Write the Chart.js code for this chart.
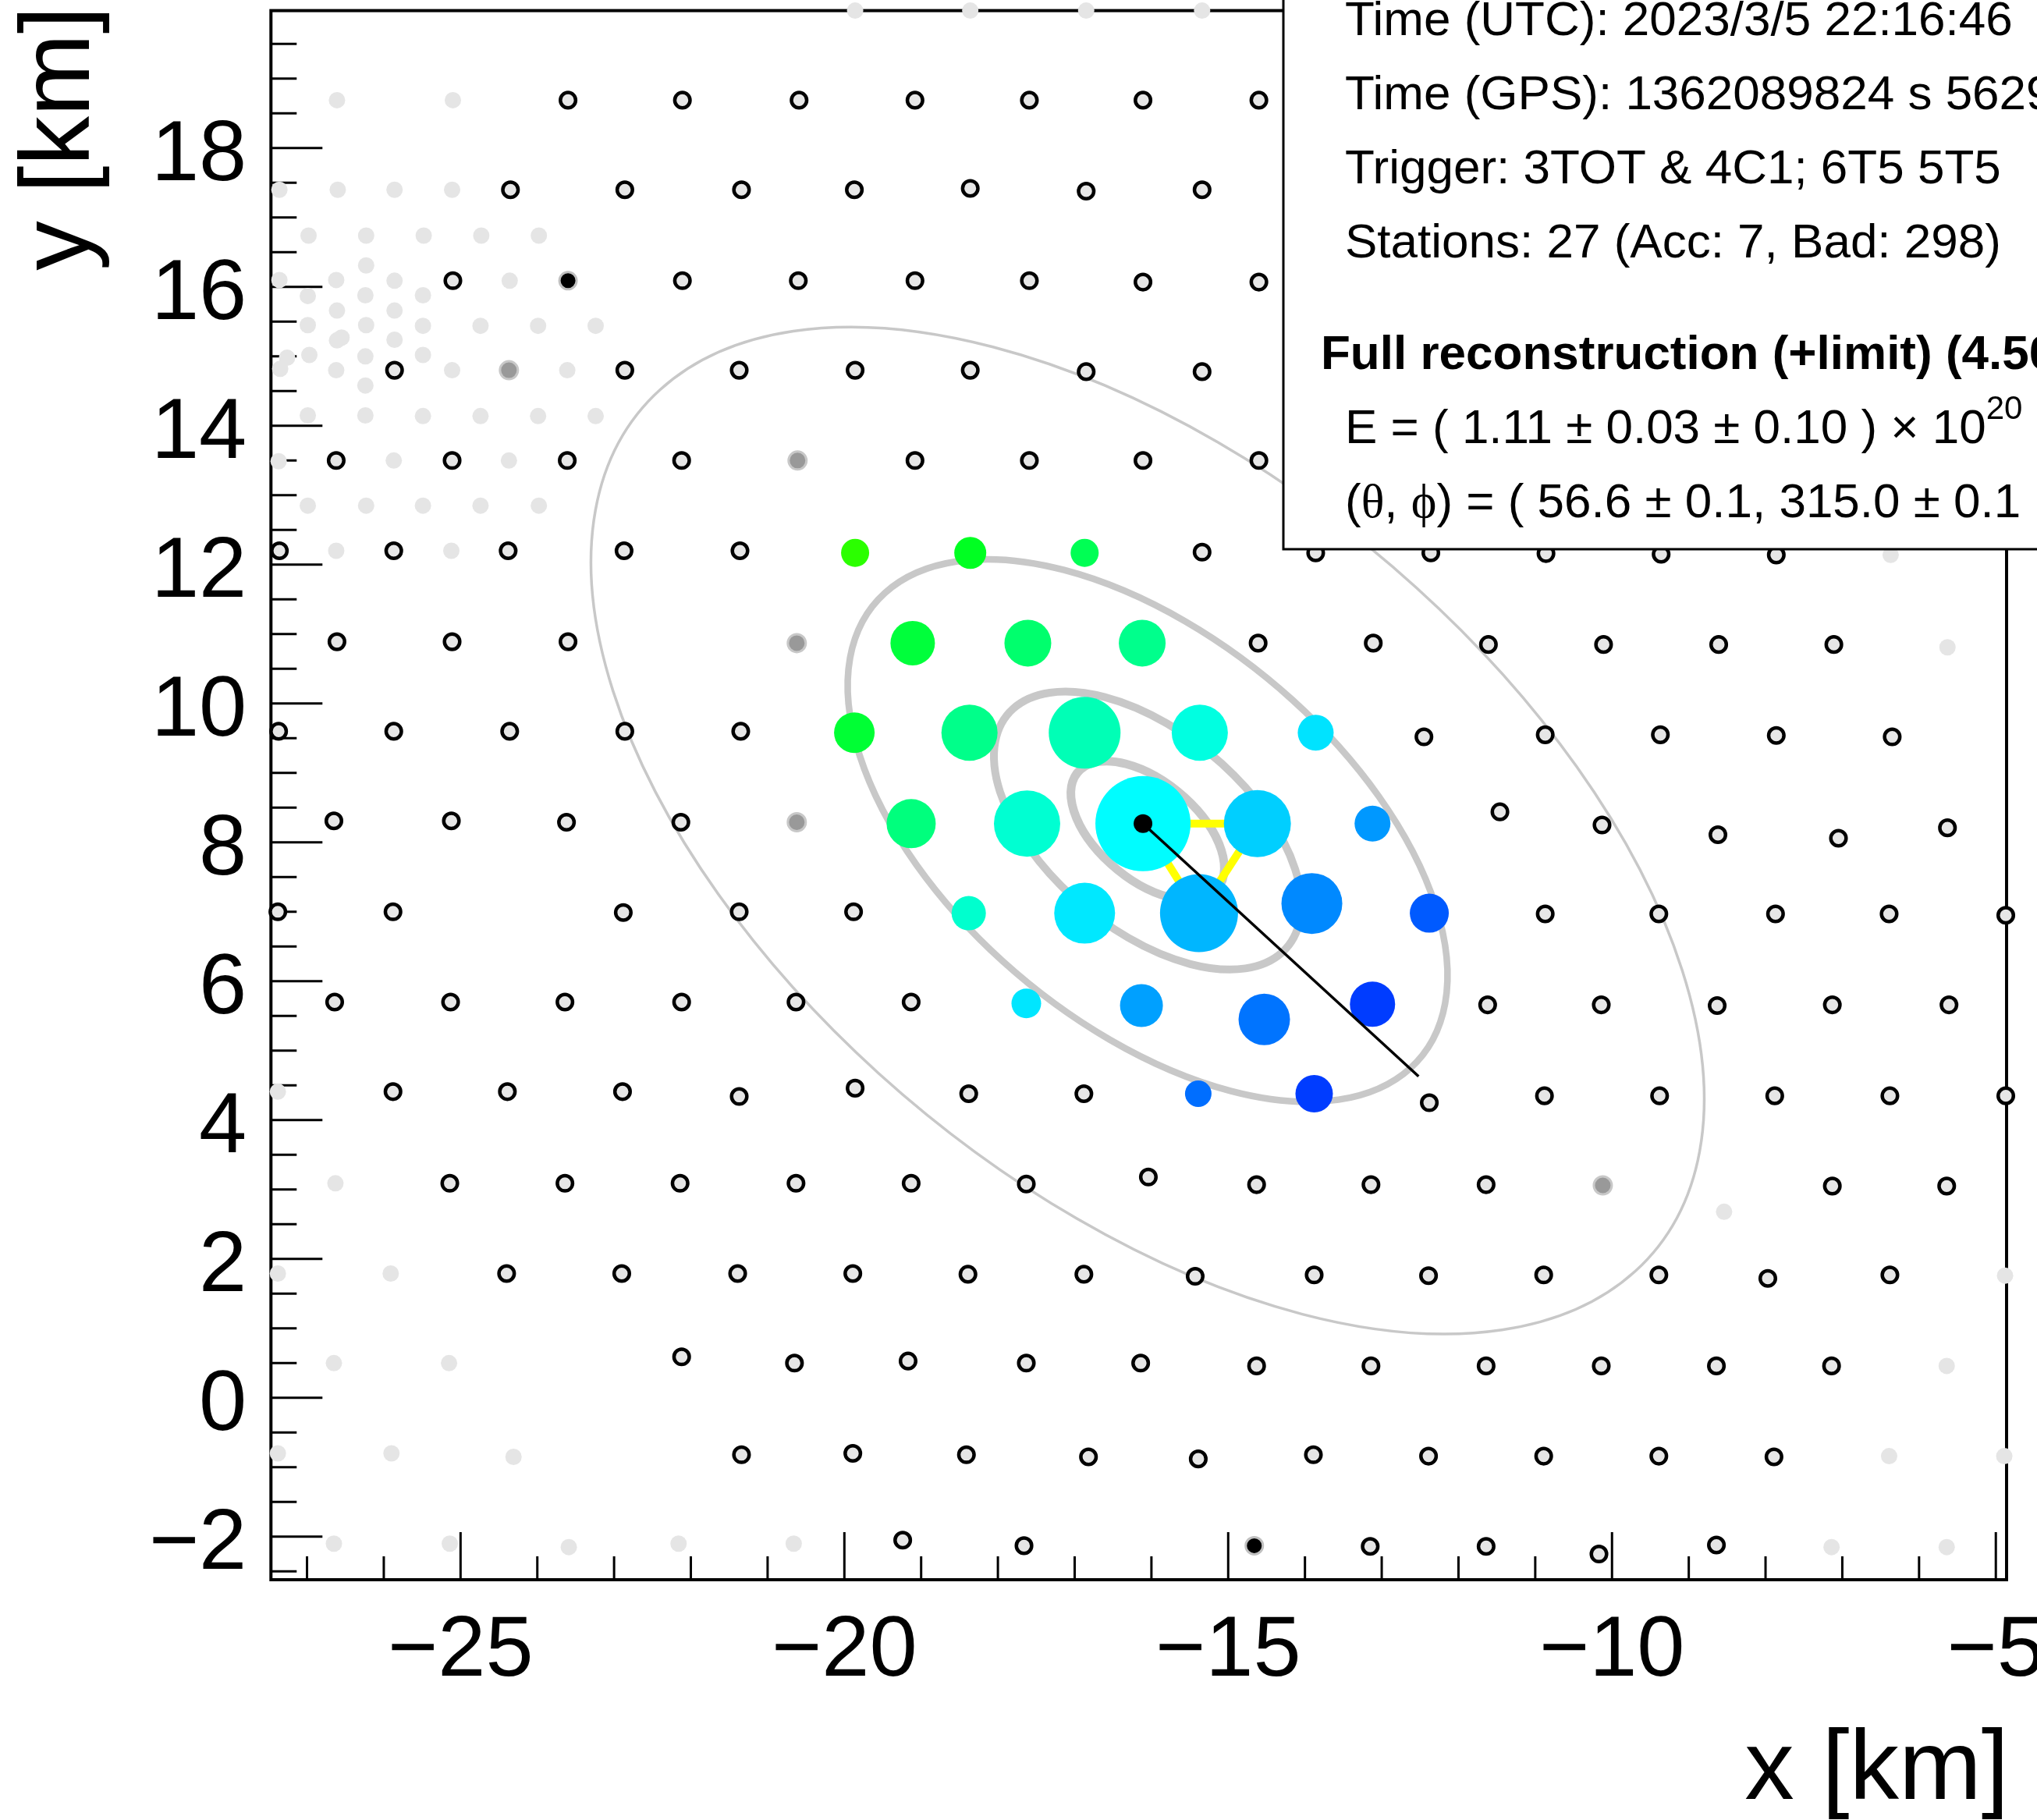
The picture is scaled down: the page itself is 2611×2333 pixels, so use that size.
<!DOCTYPE html>
<html>
<head>
<meta charset="utf-8">
<title>SD event display</title>
<script src="https://cdn.jsdelivr.net/npm/chart.js@4.4.1/dist/chart.umd.min.js"></script>
<style>
  html, body { margin: 0; padding: 0; background: #fff; overflow: hidden; }
  canvas { display: block; }
</style>
</head>
<body>
<canvas id="arrayChart" width="2611" height="2333"></canvas>
<script>
// axis ranges and ticks (km)
const xRange = [-27.47, -4.86];
const yRange = [-2.62, 19.98];
const xMajorTicks = [-25, -20, -15, -10, -5];
const xMinorTicks = [-27, -26, -24, -23, -22, -21, -19, -18, -17, -16, -14, -13, -12, -11, -9, -8, -7, -6];
const yMajorTicks = [-2, 0, 2, 4, 6, 8, 10, 12, 14, 16, 18];
const yMinorTicks = [-2.5, -1.5, -1, -0.5, 0.5, 1, 1.5, 2.5, 3, 3.5, 4.5, 5, 5.5, 6.5, 7, 7.5, 8.5, 9, 9.5,
  10.5, 11, 11.5, 12.5, 13, 13.5, 14.5, 15, 15.5, 16.5, 17, 17.5, 18.5, 19, 19.5];

// working stations without signal
const openStations = [
  [-23.60, 18.69], [-22.11, 18.69], [-20.59, 18.69], [-19.08, 18.69], [-17.59, 18.69], [-16.11, 18.69], [-14.60, 18.69],
  [-24.35, 17.40], [-22.86, 17.40], [-21.34, 17.40], [-19.87, 17.40], [-18.36, 17.42], [-16.85, 17.38], [-15.34, 17.40],
  [-25.10, 16.09], [-22.11, 16.09], [-20.60, 16.09], [-19.08, 16.09], [-17.59, 16.09], [-16.11, 16.07], [-14.60, 16.07],
  [-25.86, 14.80], [-22.86, 14.80], [-21.37, 14.80], [-19.86, 14.80], [-18.36, 14.80], [-16.85, 14.78], [-15.34, 14.78],
  [-26.62, 13.50], [-25.11, 13.50], [-23.61, 13.50], [-22.12, 13.50], [-19.08, 13.50], [-17.59, 13.50], [-16.11, 13.50], [-14.60, 13.50],
  [-27.36, 12.20], [-25.87, 12.20], [-24.38, 12.20], [-22.87, 12.20], [-21.36, 12.20], [-15.34, 12.18], [-13.86, 12.17],
  [-12.36, 12.17], [-10.86, 12.16], [-9.36, 12.15], [-7.86, 12.14],
  [-26.61, 10.89], [-25.11, 10.89], [-23.60, 10.89], [-14.61, 10.87], [-13.11, 10.87], [-11.61, 10.85], [-10.11, 10.85],
  [-8.61, 10.85], [-7.11, 10.85],
  [-27.37, 9.60], [-25.87, 9.60], [-24.36, 9.60], [-22.86, 9.60], [-21.35, 9.60], [-12.45, 9.52], [-10.87, 9.55],
  [-9.37, 9.55], [-7.86, 9.54], [-6.35, 9.52],
  [-26.65, 8.31], [-25.12, 8.31], [-23.62, 8.29], [-22.13, 8.29], [-11.46, 8.44], [-10.13, 8.25], [-8.62, 8.11],
  [-7.05, 8.06], [-5.63, 8.21],
  [-27.38, 7.00], [-25.88, 7.00], [-22.88, 6.99], [-21.37, 7.00], [-19.88, 7.00], [-10.87, 6.97], [-9.39, 6.97],
  [-7.87, 6.97], [-6.39, 6.97], [-4.87, 6.95],
  [-26.64, 5.70], [-25.13, 5.70], [-23.64, 5.70], [-22.12, 5.70], [-20.63, 5.70], [-19.13, 5.70], [-11.62, 5.66],
  [-10.14, 5.66], [-8.63, 5.65], [-7.13, 5.66], [-5.61, 5.66],
  [-25.88, 4.41], [-24.39, 4.41], [-22.89, 4.41], [-21.37, 4.34], [-19.86, 4.46], [-18.38, 4.38], [-16.88, 4.38],
  [-12.38, 4.25], [-10.88, 4.35], [-9.38, 4.35], [-7.88, 4.35], [-6.38, 4.35], [-4.87, 4.35],
  [-25.14, 3.09], [-23.64, 3.09], [-22.14, 3.09], [-20.63, 3.09], [-19.13, 3.09], [-17.63, 3.08], [-16.04, 3.18],
  [-14.63, 3.07], [-13.14, 3.07], [-11.64, 3.07], [-7.13, 3.05], [-5.64, 3.05],
  [-24.40, 1.79], [-22.90, 1.79], [-21.39, 1.79], [-19.89, 1.79], [-18.39, 1.78], [-16.88, 1.78], [-15.43, 1.75],
  [-13.88, 1.77], [-12.39, 1.76], [-10.89, 1.77], [-9.39, 1.77], [-7.97, 1.72], [-6.38, 1.77],
  [-22.12, 0.59], [-20.65, 0.50], [-19.17, 0.53], [-17.63, 0.50], [-16.14, 0.50], [-14.63, 0.46], [-13.14, 0.46],
  [-11.64, 0.46], [-10.14, 0.46], [-8.64, 0.46], [-7.14, 0.46],
  [-21.34, -0.82], [-19.89, -0.80], [-18.41, -0.82], [-16.82, -0.85], [-15.39, -0.88], [-13.89, -0.82], [-12.39, -0.84],
  [-10.89, -0.84], [-9.39, -0.84], [-7.89, -0.85],
  [-19.24, -2.05], [-17.66, -2.13], [-13.15, -2.14], [-11.64, -2.14], [-10.17, -2.25], [-8.64, -2.12]
];

// bad / not running stations
const badStations = [
  [-19.86, 19.98], [-18.36, 19.98], [-16.85, 19.98], [-15.34, 19.98],
  [-26.61, 18.69], [-25.10, 18.69],
  [-27.36, 17.40], [-26.60, 17.40], [-25.86, 17.40], [-25.11, 17.40],
  [-26.98, 16.74], [-26.23, 16.74], [-25.48, 16.74], [-24.73, 16.74], [-23.98, 16.74],
  [-26.23, 16.31],
  [-27.36, 16.10], [-26.62, 16.10], [-25.86, 16.09], [-24.36, 16.09],
  [-26.99, 15.87], [-26.24, 15.88], [-25.49, 15.88],
  [-26.61, 15.66], [-25.86, 15.66],
  [-26.99, 15.45], [-26.23, 15.45], [-25.49, 15.44], [-24.74, 15.44], [-23.99, 15.44], [-23.24, 15.44],
  [-26.61, 15.23], [-26.55, 15.27], [-25.86, 15.24],
  [-27.26, 14.98], [-26.97, 15.02], [-26.24, 15.00], [-25.49, 15.02],
  [-27.35, 14.82], [-26.62, 14.80], [-25.11, 14.80], [-23.61, 14.80],
  [-26.24, 14.58],
  [-26.99, 14.15], [-26.24, 14.15], [-25.49, 14.14], [-24.74, 14.14], [-23.99, 14.14], [-23.24, 14.14],
  [-27.37, 13.49], [-25.87, 13.50], [-24.37, 13.50],
  [-26.99, 12.85], [-26.23, 12.85], [-25.49, 12.85], [-24.74, 12.85], [-23.98, 12.85],
  [-26.62, 12.20], [-25.12, 12.20], [-6.37, 12.14],
  [-5.63, 10.81],
  [-27.38, 4.41],
  [-26.63, 3.09], [-8.54, 2.68],
  [-27.38, 1.79], [-25.91, 1.79], [-4.88, 1.76],
  [-26.65, 0.50], [-25.15, 0.50], [-5.64, 0.46],
  [-27.38, -0.80], [-25.90, -0.80], [-24.31, -0.85], [-6.39, -0.84], [-4.89, -0.84],
  [-26.65, -2.10], [-25.14, -2.10], [-23.59, -2.15], [-22.16, -2.10], [-20.66, -2.10], [-7.14, -2.15], [-5.64, -2.15]
];

const darkStations = [[-24.37, 14.80], [-20.61, 13.50], [-20.62, 10.87], [-20.62, 8.29], [-10.12, 3.06]];
const blackStations = [[-23.60, 16.09], [-14.66, -2.13]];

// the 27 stations with signal
const trigX = [-19.86, -18.36, -16.87, -19.11, -17.61, -16.12, -19.87, -18.37, -16.87, -15.37, -13.86,
  -19.13, -17.62, -16.11, -14.62, -13.12, -18.38, -16.87, -15.38, -13.91, -12.38, -17.63, -16.13, -14.53, -13.12,
  -15.39, -13.88];
const trigY = [12.17, 12.17, 12.17, 10.87, 10.87, 10.87, 9.58, 9.58, 9.58, 9.58, 9.58,
  8.27, 8.27, 8.27, 8.27, 8.27, 6.98, 6.98, 6.98, 7.12, 6.98, 5.68, 5.65, 5.45, 5.67,
  4.38, 4.38];
// relative (log) signal, sets marker size
const trigSignal = [1.8, 2.05, 1.8, 2.85, 3.0, 3.0, 2.6, 3.6, 4.6, 3.6, 2.3,
  3.15, 4.25, 6.1, 4.3, 2.3, 2.2, 3.9, 5.0, 3.9, 2.5, 1.9, 2.75, 3.3, 2.9,
  1.7, 2.4];
// relative start time, 0 = first, 1 = last
const trigTime = [0.015, 0.17, 0.27, 0.22, 0.32, 0.38, 0.205, 0.376, 0.465, 0.55, 0.666,
  0.35, 0.52, 0.615, 0.706, 0.815, 0.513, 0.657, 0.756, 0.846, 0.94, 0.66, 0.80, 0.887, 0.999,
  0.90, 1.0];
const t3Triangle = [13, 14, 18];

// reconstruction
const core = [-16.11, 8.27];
const axisEnd = [-12.52, 4.63];
const ringCenter = [-16.05, 8.17];
const ringAngle = -45;
const ringSemiMajor = [1.24, 2.48, 4.84, 8.98];
const ringSemiMinor = [0.68, 1.365, 2.665, 4.95];

const infoLines = [
  'Time (UTC): 2023/3/5 22:16:46',
  'Time (GPS): 1362089824 s 562954 ns',
  'Trigger: 3TOT & 4C1; 6T5 5T5',
  'Stations: 27 (Acc: 7, Bad: 298)'
];
const recoTitle = 'Full reconstruction (+limit) (4.50 EeV)';
const energyText = ['E = ( 1.11 \u00b1 0.03 \u00b1 0.10 ) \u00d7 10', '20', '     eV'];
const angleText = ['(', '\u03b8', ', ', '\u03d5', ') = ( 56.6 \u00b1 0.1, 315.0 \u00b1 0.1'];

const SANS = '"Liberation Sans", Arial, Helvetica, sans-serif';
const SERIF = '"Liberation Serif", "DejaVu Serif", serif';

function pts(list) {
  return list.map(p => ({ x: p[0], y: p[1] }));
}

function timeColor(t) {
  return `hsl(${108 + 118 * t}, 100%, 50%)`;
}

function minus(v) {
  return v < 0 ? '\u2212' + Math.abs(v) : String(v);
}

const frameAxes = {
  id: 'frameAxes',
  beforeDatasetsDraw(chart) {
    const { ctx, chartArea: a, scales: { x, y } } = chart;
    ctx.save();
    ctx.strokeStyle = '#000';
    ctx.lineWidth = 4;
    ctx.strokeRect(a.left, a.top, a.right - a.left, a.bottom - a.top);
    ctx.lineWidth = 3;
    ctx.beginPath();
    xMajorTicks.forEach(v => { const p = x.getPixelForValue(v); ctx.moveTo(p, a.bottom); ctx.lineTo(p, a.bottom - 61); });
    xMinorTicks.forEach(v => { const p = x.getPixelForValue(v); ctx.moveTo(p, a.bottom); ctx.lineTo(p, a.bottom - 30); });
    yMajorTicks.forEach(v => { const p = y.getPixelForValue(v); ctx.moveTo(a.left, p); ctx.lineTo(a.left + 66, p); });
    yMinorTicks.forEach(v => { const p = y.getPixelForValue(v); ctx.moveTo(a.left, p); ctx.lineTo(a.left + 33, p); });
    ctx.stroke();
    ctx.restore();
  },
  afterDraw(chart) {
    const { ctx, chartArea: a, scales: { x, y } } = chart;
    ctx.save();
    ctx.fillStyle = '#000';
    ctx.font = `110px ${SANS}`;
    ctx.textBaseline = 'alphabetic';
    ctx.textAlign = 'center';
    xMajorTicks.forEach(v => ctx.fillText(minus(v), x.getPixelForValue(v), a.bottom + 123));
    ctx.textAlign = 'right';
    yMajorTicks.forEach(v => ctx.fillText(minus(v), a.left - 31, y.getPixelForValue(v) + 41));
    ctx.font = `127px ${SANS}`;
    ctx.fillText('x [km]', a.right + 3, 2306);
    ctx.translate(114, 8);
    ctx.rotate(-Math.PI / 2);
    ctx.fillText('y [km]', 0, 0);
    ctx.restore();
  }
};

const showerRings = {
  id: 'showerRings',
  beforeDatasetsDraw(chart) {
    const { ctx, scales: { x, y } } = chart;
    const sx = x.getPixelForValue(1) - x.getPixelForValue(0);
    const sy = y.getPixelForValue(0) - y.getPixelForValue(1);
    const widths = [11, 10, 8.5, 3.5];
    ringSemiMajor.forEach((am, i) => {
      ctx.save();
      ctx.beginPath();
      ctx.translate(x.getPixelForValue(ringCenter[0]), y.getPixelForValue(ringCenter[1]));
      ctx.scale(sx, -sy);
      ctx.rotate(ringAngle * Math.PI / 180);
      ctx.ellipse(0, 0, am, ringSemiMinor[i], 0, 0, 2 * Math.PI);
      ctx.restore();
      ctx.save();
      ctx.strokeStyle = '#c8c8c8';
      ctx.lineWidth = widths[i];
      ctx.stroke();
      ctx.restore();
    });
  }
};

function drawRuns(ctx, runs, x, y) {
  runs.forEach(r => {
    ctx.font = r.font;
    ctx.fillText(r.text, x, y + (r.dy || 0));
    x += ctx.measureText(r.text).width;
  });
}

const infoBox = {
  id: 'infoBox',
  afterDatasetsDraw(chart) {
    const { ctx } = chart;
    ctx.save();
    ctx.fillStyle = '#fff';
    ctx.fillRect(1645, -10, 1000, 714);
    ctx.strokeStyle = '#000';
    ctx.lineWidth = 3;
    ctx.strokeRect(1645, -10, 1000, 714);
    ctx.fillStyle = '#000';
    ctx.textAlign = 'left';
    ctx.textBaseline = 'alphabetic';
    ctx.font = `62px ${SANS}`;
    const base = [45, 140, 235, 330];
    infoLines.forEach((t, i) => ctx.fillText(t, 1724, base[i]));
    ctx.font = `bold 62px ${SANS}`;
    ctx.fillText(recoTitle, 1693, 473);
    drawRuns(ctx, [
      { text: energyText[0], font: `62px ${SANS}` },
      { text: energyText[1], font: `42px ${SANS}`, dy: -31 },
      { text: energyText[2], font: `62px ${SANS}` }
    ], 1724, 568);
    drawRuns(ctx, [
      { text: angleText[0], font: `62px ${SANS}` },
      { text: angleText[1], font: `62px ${SERIF}` },
      { text: angleText[2], font: `62px ${SANS}` },
      { text: angleText[3], font: `62px ${SERIF}` },
      { text: angleText[4], font: `62px ${SANS}` }
    ], 1724, 663);
    ctx.restore();
  }
};

const trigPoints = trigX.map((v, i) => ({ x: v, y: trigY[i] }));

new Chart(document.getElementById('arrayChart'), {
  type: 'scatter',
  data: {
    datasets: [
      { label: 'core', data: [{ x: core[0], y: core[1] }], order: 0, clip: false,
        pointRadius: 12, pointBackgroundColor: '#000', pointBorderWidth: 0 },
      { label: 'axis', data: [{ x: core[0], y: core[1] }, { x: axisEnd[0], y: axisEnd[1] }], order: 1,
        showLine: true, borderColor: '#000', borderWidth: 3.5, pointRadius: 0 },
      { label: 'signal', data: trigPoints, order: 2, clip: false,
        pointRadius: ctx => 10 * trigSignal[ctx.dataIndex],
        pointBackgroundColor: ctx => timeColor(trigTime[ctx.dataIndex]), pointBorderWidth: 0 },
      { label: 'T3', data: [...t3Triangle, t3Triangle[0]].map(i => trigPoints[i]), order: 3,
        showLine: true, borderColor: '#ffff00', borderWidth: 10, pointRadius: 0 },
      { label: 'working', data: pts(openStations), order: 4, clip: false,
        pointRadius: 9.8, pointBackgroundColor: '#e6e6e6', pointBorderColor: '#000', pointBorderWidth: 4.5 },
      { label: 'black', data: pts(blackStations), order: 5, clip: false,
        pointRadius: 11, pointBackgroundColor: '#000', pointBorderColor: '#c0c0c0', pointBorderWidth: 3 },
      { label: 'dark', data: pts(darkStations), order: 6, clip: false,
        pointRadius: 11.5, pointBackgroundColor: '#999999', pointBorderColor: '#c8c8c8', pointBorderWidth: 3 },
      { label: 'bad', data: pts(badStations), order: 7, clip: false,
        pointRadius: 10.5, pointBackgroundColor: '#e5e5e5', pointBorderWidth: 0 }
    ]
  },
  plugins: [showerRings, frameAxes, infoBox],
  options: {
    responsive: false,
    animation: false,
    devicePixelRatio: 1,
    events: [],
    layout: { autoPadding: false, padding: { left: 0, top: 13.6, right: 39, bottom: 0 } },
    plugins: { legend: { display: false }, tooltip: { enabled: false } },
    scales: {
      x: {
        type: 'linear', min: xRange[0], max: xRange[1],
        grid: { display: false }, border: { display: false }, ticks: { display: false },
        afterFit(scale) { scale.height = 308; }
      },
      y: {
        type: 'linear', min: yRange[0], max: yRange[1],
        grid: { display: false }, border: { display: false }, ticks: { display: false },
        afterFit(scale) { scale.width = 347.3; }
      }
    }
  }
});
</script>
</body>
</html>
